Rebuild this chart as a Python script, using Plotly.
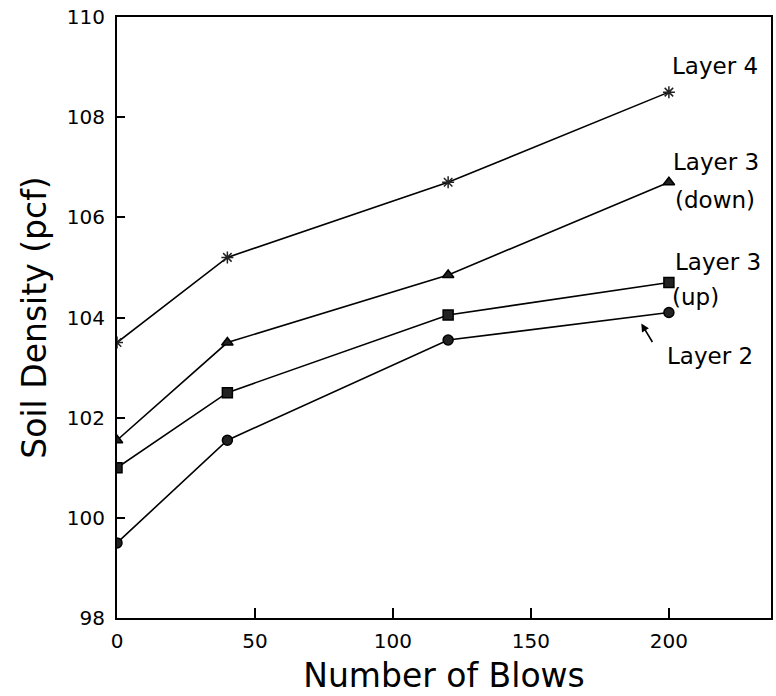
import plotly.graph_objects as go

blows = [0, 40, 120, 200]
layer4 = [103.5, 105.2, 106.7, 108.5]
layer3_down = [101.55, 103.5, 104.85, 106.7]
layer3_up = [101.0, 102.5, 104.05, 104.7]
layer2 = [99.5, 101.55, 103.55, 104.1]

series_names = ["Layer 4", "Layer 3 (down)", "Layer 3 (up)", "Layer 2"]
series_values = [layer4, layer3_down, layer3_up, layer2]
series_symbols = ["asterisk-open", "triangle-up", "square", "circle"]

label_lines = ["Layer 4", "Layer 3", "(down)", "Layer 3", "(up)", "Layer 2"]
label_x = [200.4, 200.6, 201.4, 201.4, 200.4, 198.6]
label_y = [109.02, 107.1, 106.34, 105.1, 104.4, 103.24]

x_ticks = [0, 50, 100, 150, 200]
y_ticks = [98, 100, 102, 104, 106, 108, 110]

FONT = "DejaVu Sans"

fig = go.Figure()
for name, vals, sym in zip(series_names, series_values, series_symbols):
    fig.add_trace(go.Scatter(
        x=blows, y=vals, mode="lines+markers", name=name,
        line=dict(color="black", width=1.6),
        marker=dict(symbol=sym, size=10 if sym != "asterisk-open" else 10,
                    color="#222222",
                    line=dict(color="black", width=1.5)),
        showlegend=False,
    ))

for t, x, y in zip(label_lines, label_x, label_y):
    fig.add_annotation(x=x, y=y, xref="x", yref="y", text=t, showarrow=False,
                       xanchor="left", yanchor="middle", align="left",
                       font=dict(family=FONT, size=23, color="black"))

# arrow pointing from "Layer 2" label to its line
fig.add_annotation(x=190, y=103.88, xref="x", yref="y", text="",
                   showarrow=True, arrowhead=2, arrowsize=1, arrowwidth=1.6,
                   arrowcolor="black", ax=12, ay=20)

fig.update_layout(
    width=776, height=696,
    margin=dict(l=117, r=3, t=17, b=78),
    paper_bgcolor="white", plot_bgcolor="white",
    font=dict(family=FONT, color="black"),
)
fig.update_xaxes(
    range=[0, 237], tickvals=x_ticks, ticktext=[str(v) for v in x_ticks],
    ticks="inside", ticklen=10, tickwidth=1.5, tickcolor="black",
    showline=True, linecolor="black", linewidth=2, mirror=True,
    showgrid=False, zeroline=False, ticklabelstandoff=4,
    tickfont=dict(family=FONT, size=20),
    title=dict(text="Number of Blows", font=dict(family=FONT, size=33), standoff=12),
)
fig.update_yaxes(
    range=[98, 110], tickvals=y_ticks, ticktext=[str(v) for v in y_ticks],
    ticks="inside", ticklen=8, tickwidth=1.5, tickcolor="black",
    showline=True, linecolor="black", linewidth=2, mirror=True,
    showgrid=False, zeroline=False, ticklabelstandoff=6,
    tickfont=dict(family=FONT, size=20),
    title=dict(text="Soil Density (pcf)", font=dict(family=FONT, size=33), standoff=10),
)

fig.write_html("out.html")
